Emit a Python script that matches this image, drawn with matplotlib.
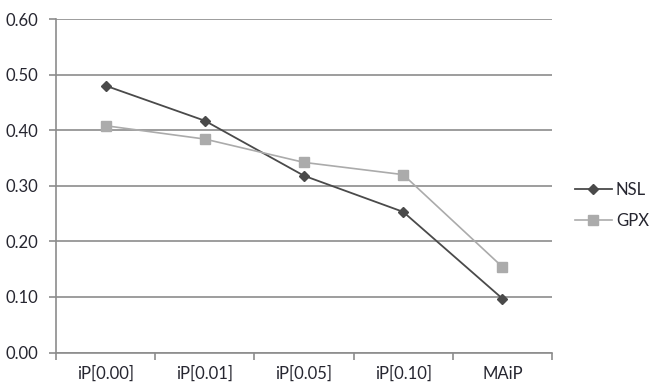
import matplotlib
matplotlib.use("Agg")
import matplotlib.pyplot as plt
import numpy as np

categories = ["iP[0.00]", "iP[0.01]", "iP[0.05]", "iP[0.10]", "MAiP"]
nsl = [0.480, 0.417, 0.318, 0.253, 0.097]
gpx = [0.408, 0.384, 0.342, 0.320, 0.154]
yticks = [0.0, 0.1, 0.2, 0.3, 0.4, 0.5, 0.6]

plt.rcParams['font.family'] = ['Lato', 'DejaVu Sans']
txt = "#262630"
fs = 12

fig = plt.figure(figsize=(6.49, 3.85), dpi=100)
ax = fig.add_axes([56 / 649, 1 - 352.5 / 385, (552 - 56) / 649, (352.5 - 19) / 385])

x = np.arange(len(categories))
ax.plot(x, nsl, color="#4a4a4a", marker="D", markersize=4.6, linewidth=1.3, label="NSL", zorder=3)
ax.plot(x, gpx, color="#ababab", marker="s", markersize=7.5, linewidth=1.2, label="GPX", zorder=3)

ax.set_xlim(-0.5, len(categories) - 0.5)
ax.set_ylim(0, 0.6)
ax.set_yticks(yticks)
ax.set_yticklabels([f"{v:.2f}" for v in yticks], fontsize=fs, color=txt)
ax.yaxis.grid(True, color="#8c8c8c", linewidth=1.2)
ax.set_axisbelow(True)

ax.set_xticks(np.arange(-0.5, len(categories), 1.0))
ax.set_xticklabels([])
ax.set_xticks(x, minor=True)
ax.set_xticklabels(categories, minor=True, fontsize=fs, color=txt)
ax.tick_params(axis="x", which="minor", length=0, pad=9.5)
ax.tick_params(axis="x", which="major", length=5, width=1.2, color="#8c8c8c", direction="out")
ax.tick_params(axis="y", length=5, width=1.2, color="#8c8c8c", direction="out", pad=8)

for s in ["top", "right"]:
    ax.spines[s].set_visible(False)
for s in ["left", "bottom"]:
    ax.spines[s].set_color("#8c8c8c")
    ax.spines[s].set_linewidth(1.2)

leg = fig.legend(loc="center left", bbox_to_anchor=(575 / 649, 1 - 205.5 / 385), frameon=False,
                 fontsize=fs, handlelength=2.2, labelspacing=0.9, handletextpad=0.25,
                 borderpad=0, borderaxespad=0)
for t in leg.get_texts():
    t.set_color(txt)

fig.savefig("out.png", dpi=100)
